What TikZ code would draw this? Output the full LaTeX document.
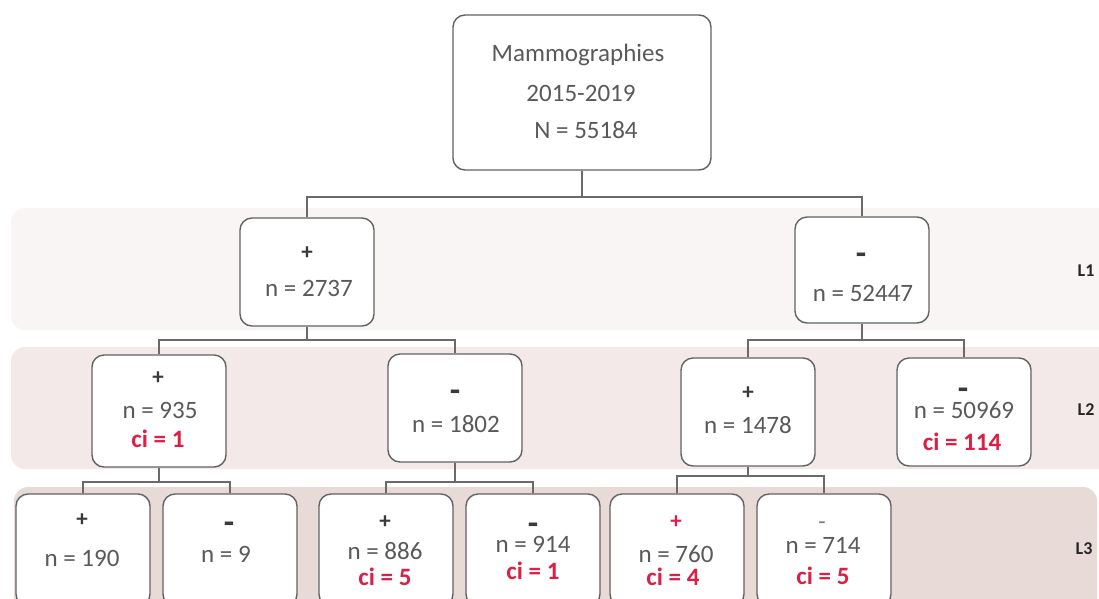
\documentclass[tikz,border=0pt]{standalone}
\usepackage{fontspec}
\setmainfont{Carlito}
\definecolor{boxgray}{HTML}{626262}
\definecolor{linegray}{HTML}{6A6A6A}
\definecolor{textgray}{HTML}{595959}
\definecolor{signgray}{HTML}{3A3A3A}
\definecolor{cired}{HTML}{DE1F45}
\definecolor{bandA}{HTML}{F9F5F4}
\definecolor{bandB}{HTML}{F3E9E8}
\definecolor{bandC}{HTML}{E8DAD6}
\begin{document}
\begin{tikzpicture}[x=1pt,y=-1pt,
  box/.style={draw=boxgray,line width=1.4pt,rounded corners=12pt,fill=white,minimum width=134pt,inner sep=0pt},
  conn/.style={draw=linegray,line width=1.4pt},
  txt/.style={inner sep=0pt,text=textgray,text height=15pt,text depth=0pt,font=\fontsize{25}{30}\selectfont},
  sgn/.style={txt,text=signgray,font=\bfseries\fontsize{23}{26}\selectfont},
  msgn/.style={inner sep=0pt,text=signgray,text height=10pt,text depth=0pt,font=\bfseries\fontsize{34}{36}\selectfont},
  thinsgn/.style={inner sep=0pt,text=textgray!80,text height=13pt,text depth=0pt,font=\fontsize{24}{26}\selectfont},
  cit/.style={txt,text=cired,font=\bfseries\fontsize{25}{30}\selectfont},
  lvl/.style={inner sep=0pt,text=black!85,font=\bfseries\fontsize{18}{20}\selectfont}
]
\useasboundingbox (0,0) rectangle (1099,598);
\clip (0,0) rectangle (1099,598);
\fill[white] (0,0) rectangle (1099,598);
% bands
\fill[bandA,rounded corners=14pt] (11,208) rectangle (1120,330);
\fill[bandB,rounded corners=14pt] (11,347) rectangle (1120,469);
\fill[bandC,rounded corners=14pt] (14,487) rectangle (1097,620);
\node[lvl] (lv1) at (1086,271) {L1};
\node[lvl] (lv2) at (1086,410) {L2};
\node[lvl] (lv3) at (1084,549) {L3};
% boxes
\node[box,minimum width=258pt,minimum height=155pt] (root) at (582,92.5) {};
\node[box,minimum height=108pt] (l1p) at (307,272) {};
\node[box,minimum height=106pt] (l1m) at (862,270) {};
\node[box,minimum height=112pt] (l2a) at (159,411) {};
\node[box,minimum height=108pt] (l2b) at (455,408) {};
\node[box,minimum height=108pt] (l2c) at (748,412) {};
\node[box,minimum height=108pt] (l2d) at (964,412) {};
\node[box,minimum height=112pt] (l3a) at (83,550) {};
\node[box,minimum height=112pt] (l3b) at (230,550) {};
\node[box,minimum height=112pt] (l3c) at (386,550) {};
\node[box,minimum height=112pt] (l3d) at (533,550) {};
\node[box,minimum height=112pt] (l3e) at (677,550) {};
\node[box,minimum height=112pt] (l3f) at (824,550) {};
% connectors
\coordinate (j0) at (582,197);
\draw[conn] (root.south) -- (j0);
\draw[conn] (l1p.north) |- (j0) -| (l1m.north);
\coordinate (j1) at (307,340);
\draw[conn] (l1p.south) -- (j1);
\draw[conn] (l2a.north) |- (j1) -| (l2b.north);
\coordinate (j2) at (862,340);
\draw[conn] (l1m.south) -- (j2);
\draw[conn] (l2c.north) |- (j2) -| (l2d.north);
\coordinate (j3) at (159,482);
\draw[conn] (l2a.south) -- (j3);
\draw[conn] (l3a.north) |- (j3) -| (l3b.north);
\coordinate (j4) at (455,482);
\draw[conn] (l2b.south) -- (j4);
\draw[conn] (l3c.north) |- (j4) -| (l3d.north);
\coordinate (j5) at (748,476);
\draw[conn] (l2c.south) -- (j5);
\draw[conn] (l3e.north) |- (j5) -| (l3f.north);
% texts
\node[txt] (rt1) at (578,54) {Mammographies};
\node[txt] (rt2) at (581,94) {2015-2019};
\node[txt] (rt3) at (586,131) {N = 55184};
\node[sgn] (a1) at (307,252) {+};
\node[txt] (a2) at (309,289) {n = 2737};
\node[msgn] (b1) at (861,259) {-};
\node[txt] (b2) at (863,294) {n = 52447};
\node[sgn] (c1) at (158,377) {+};
\node[txt] (c2) at (160,411) {n = 935};
\node[cit] (c3) at (158,440) {ci = 1};
\node[msgn] (d1) at (455,396) {-};
\node[txt] (d2) at (456,425) {n = 1802};
\node[sgn] (e1) at (748,392) {+};
\node[txt] (e2) at (748,426) {n = 1478};
\node[msgn] (f1) at (963,394) {-};
\node[txt] (f2) at (964,411) {n = 50969};
\node[cit] (f3) at (962,443) {ci = 114};
\node[sgn] (g1) at (82,519) {+};
\node[txt] (g2) at (82,559) {n = 190};
\node[msgn] (h1) at (229,528) {-};
\node[txt] (h2) at (226,555) {n = 9};
\node[sgn] (i1) at (385,521) {+};
\node[txt] (i2) at (385,552) {n = 886};
\node[cit] (i3) at (385,578) {ci = 5};
\node[msgn] (k1) at (533,529) {-};
\node[txt] (k2) at (533,545) {n = 914};
\node[cit] (k3) at (533,572) {ci = 1};
\node[sgn,text=cired] (m1) at (676,521) {+};
\node[txt] (m2) at (676,555) {n = 760};
\node[cit] (m3) at (673,578) {ci = 4};
\node[thinsgn] (o1) at (822,523) {-};
\node[txt] (o2) at (823,546) {n = 714};
\node[cit] (o3) at (823,577) {ci = 5};
\end{tikzpicture}
\end{document}
